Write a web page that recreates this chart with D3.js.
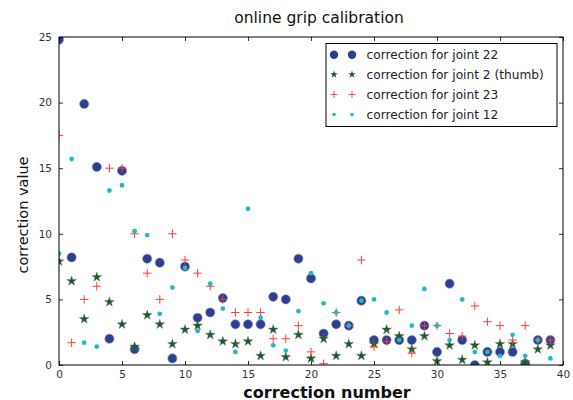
<!DOCTYPE html>
<html><head><meta charset="utf-8">
<script src="https://cdn.jsdelivr.net/npm/d3@7"></script>
<style>body{margin:0;background:#fff}svg{display:block}text{font-family:"DejaVu Sans",sans-serif}</style>
</head><body><svg id="c" width="573" height="400"></svg>
<script>
const xTicks = [0,5,10,15,20,25,30,35,40];
const yTicks = [0,5,10,15,20,25];
const idx = d3.range(40);
const joint22 = [24.8,8.2,19.9,15.1,2.0,14.8,1.2,8.1,7.8,0.5,7.5,3.6,4.0,5.1,3.1,3.1,3.1,5.2,5.0,8.1,6.6,2.4,3.1,3.0,4.9,1.9,1.9,1.9,1.9,3.0,1.0,6.2,1.9,0.0,1.0,1.0,1.0,0.1,1.9,1.9];
const joint2 = [7.9,6.4,3.5,6.7,4.8,3.1,1.4,3.8,3.1,1.6,2.7,3.0,2.3,1.8,1.6,1.8,0.7,2.7,0.6,2.3,0.5,2.0,0.7,1.6,0.7,1.6,2.7,2.2,1.2,2.2,0.3,1.5,0.4,1.5,0.2,1.6,1.6,0.2,1.2,1.5];
const joint23 = [17.5,1.7,5.0,6.0,15.0,15.0,10.0,7.0,5.0,10.0,8.0,7.0,6.0,5.0,4.0,4.0,4.0,2.0,2.0,3.0,1.0,0.1,4.0,3.0,8.0,1.4,1.8,4.2,0.9,3.0,3.0,2.4,2.2,4.5,3.3,3.0,1.9,3.0,1.9,1.9];
const joint12 = [8.5,15.7,1.7,1.4,13.3,13.7,10.2,9.9,3.9,5.9,7.4,2.6,6.2,4.3,1.0,11.9,3.6,1.5,1.1,4.1,7.0,4.7,4.0,3.0,4.9,5.0,4.0,1.9,3.0,5.8,3.0,1.9,5.0,1.0,1.0,0.7,2.3,0.7,1.9,0.5];
const seriesNames = ["correction for joint 22","correction for joint 2 (thumb)","correction for joint 23","correction for joint 12"];

const svg = d3.select("#c");
const L=59, R=563, T=37, B=365;
const x = d3.scaleLinear().domain([0,40]).range([L,R]);
const y = d3.scaleLinear().domain([0,25]).range([B,T]);

const colors = {blue:"#2b3f93", green:"#1b5a2b", red:"#ff3b3b", cyan:"#25b9c2"};

const star = d3.symbol().type(d3.symbolStar).size(30);
function drawCircle(g,cx,cy){g.append("circle").attr("cx",cx).attr("cy",cy).attr("r",4.6).attr("fill",colors.blue).attr("stroke","#8a93b8").attr("stroke-width",0.6);}
function drawStar(g,cx,cy){g.append("path").attr("d",star()).attr("transform",`translate(${cx},${cy})`).attr("fill",colors.green).attr("stroke","#6a7a6a").attr("stroke-width",0.4);}
function drawPlus(g,cx,cy){const s=4.2;g.append("path").attr("d",`M${cx-s},${cy}H${cx+s}M${cx},${cy-s}V${cy+s}`).attr("stroke",colors.red).attr("stroke-width",1).attr("fill","none");}
function drawDot(g,cx,cy){g.append("circle").attr("cx",cx).attr("cy",cy).attr("r",2.4).attr("fill",colors.cyan);}
const drawers=[drawCircle,drawStar,drawPlus,drawDot];
const data=[joint22,joint2,joint23,joint12];

svg.append("defs").append("clipPath").attr("id","clip").append("rect").attr("x",L).attr("y",T).attr("width",R-L).attr("height",B-T);
const plot = svg.append("g").attr("clip-path","url(#clip)");
data.forEach((arr,k)=>{
  const g=plot.append("g");
  idx.forEach(i=>drawers[k](g,x(i),y(arr[i])));
});

const tickFmt = d3.format("d");
function styleAxis(g){g.select(".domain").remove();g.selectAll("line").attr("stroke","#000").attr("stroke-width",0.8);g.selectAll("text").attr("fill","#333").attr("font-size","10.5px").attr("font-family","DejaVu Sans");}
svg.append("g").attr("transform",`translate(0,${B})`).call(d3.axisBottom(x).tickValues(xTicks).tickFormat(tickFmt).tickSizeInner(-4).tickSizeOuter(0).tickPadding(6)).call(styleAxis);
svg.append("g").attr("transform",`translate(0,${T})`).call(d3.axisTop(x).tickValues(xTicks).tickFormat("").tickSizeInner(-4).tickSizeOuter(0)).call(styleAxis);
svg.append("g").attr("transform",`translate(${L},0)`).call(d3.axisLeft(y).tickValues(yTicks).tickFormat(tickFmt).tickSizeInner(-4).tickSizeOuter(0).tickPadding(7)).call(styleAxis);
svg.append("g").attr("transform",`translate(${R},0)`).call(d3.axisRight(y).tickValues(yTicks).tickFormat("").tickSizeInner(-4).tickSizeOuter(0)).call(styleAxis);
svg.append("rect").attr("x",L).attr("y",T).attr("width",R-L).attr("height",B-T).attr("fill","none").attr("stroke","#000").attr("stroke-width",1);

svg.append("text").attr("x",319).attr("y",23).attr("text-anchor","middle").attr("font-size","15.5px").attr("fill","#111").text("online grip calibration");
svg.append("text").attr("x",327).attr("y",397.5).attr("text-anchor","middle").attr("font-size","16px").attr("font-weight","bold").attr("fill","#111").text("correction number");
svg.append("text").attr("transform","translate(28,215) rotate(-90)").attr("text-anchor","middle").attr("font-size","14.5px").attr("fill","#111").text("correction value");

const lg = svg.append("g");
lg.append("rect").attr("x",326).attr("y",43.5).attr("width",231).attr("height",83).attr("fill","#fff").attr("stroke","#000").attr("stroke-width",1);
const rowY=[54.7,74.5,94.5,114.5];
seriesNames.forEach((name,k)=>{
  const g=lg.append("g");
  [334,352].forEach(mx=>{
    if(k===0){g.append("circle").attr("cx",mx).attr("cy",rowY[k]).attr("r",4.2).attr("fill",colors.blue);}
    else if(k===1){g.append("path").attr("d",d3.symbol().type(d3.symbolStar).size(18)()).attr("transform",`translate(${mx},${rowY[k]})`).attr("fill",colors.green);}
    else if(k===2){const s=3.5;g.append("path").attr("d",`M${mx-s},${rowY[k]}H${mx+s}M${mx},${rowY[k]-s}V${rowY[k]+s}`).attr("stroke",colors.red).attr("stroke-width",0.9);}
    else {g.append("circle").attr("cx",mx).attr("cy",rowY[k]).attr("r",1.8).attr("fill",colors.cyan);}
  });
  g.append("text").attr("x",366.5).attr("y",rowY[k]+4.3).attr("font-size","12.2px").attr("fill","#222").text(name);
});
</script></body></html>
